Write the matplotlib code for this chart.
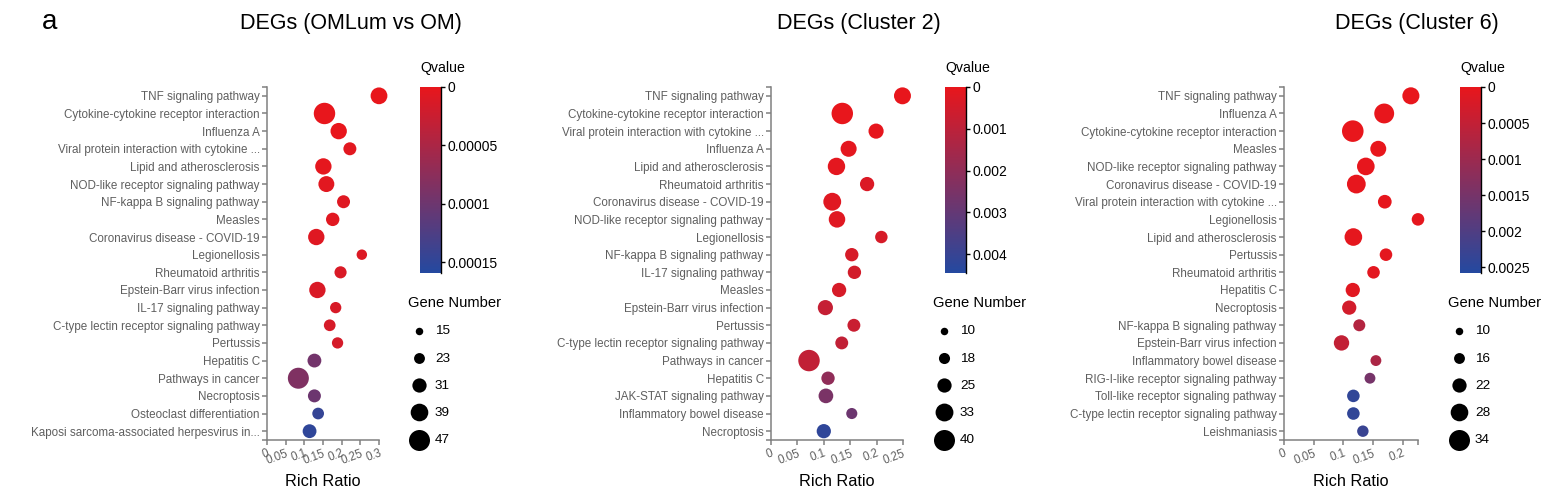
import numpy as np
import matplotlib
matplotlib.use("Agg")
import matplotlib.pyplot as plt
from matplotlib.colors import LinearSegmentedColormap, Normalize
from matplotlib.cm import ScalarMappable

plt.rcParams['font.family'] = ['Liberation Sans', 'DejaVu Sans']

# ---- panel 1: DEGs (OMLum vs OM)
terms_1 = ["TNF signaling pathway", "Cytokine-cytokine receptor interaction", "Influenza A",
           "Viral protein interaction with cytokine ...", "Lipid and atherosclerosis",
           "NOD-like receptor signaling pathway", "NF-kappa B signaling pathway", "Measles",
           "Coronavirus disease - COVID-19", "Legionellosis", "Rheumatoid arthritis",
           "Epstein-Barr virus infection", "IL-17 signaling pathway",
           "C-type lectin receptor signaling pathway", "Pertussis", "Hepatitis C",
           "Pathways in cancer", "Necroptosis", "Osteoclast differentiation",
           "Kaposi sarcoma-associated herpesvirus in..."]
ratio_1 = [0.300, 0.154, 0.192, 0.222, 0.151, 0.159, 0.205, 0.176, 0.132, 0.254,
           0.197, 0.135, 0.184, 0.168, 0.189, 0.127, 0.084, 0.127, 0.137, 0.114]
genes_1 = [37, 48, 36, 28, 36, 35, 28, 29, 36, 22, 26, 36, 24, 25, 24, 30, 47, 28, 25, 30]
qval_1 = [0, 0, 0, 0.000005, 0.000003, 0.000005, 0.000008, 0.000006, 0.000008, 0.00001,
          0.000012, 0.000012, 0.000014, 0.000015, 0.000016, 0.000095, 0.000085, 0.0001,
          0.000145, 0.00015]
qticks_1 = [0, 0.00005, 0.0001, 0.00015]
legend_1 = [15, 23, 31, 39, 47]

# ---- panel 2: DEGs (Cluster 2)
terms_2 = ["TNF signaling pathway", "Cytokine-cytokine receptor interaction",
           "Viral protein interaction with cytokine ...", "Influenza A",
           "Lipid and atherosclerosis", "Rheumatoid arthritis", "Coronavirus disease - COVID-19",
           "NOD-like receptor signaling pathway", "Legionellosis", "NF-kappa B signaling pathway",
           "IL-17 signaling pathway", "Measles", "Epstein-Barr virus infection", "Pertussis",
           "C-type lectin receptor signaling pathway", "Pathways in cancer", "Hepatitis C",
           "JAK-STAT signaling pathway", "Inflammatory bowel disease", "Necroptosis"]
ratio_2 = [0.249, 0.135, 0.199, 0.147, 0.124, 0.182, 0.116, 0.125, 0.209, 0.153,
           0.158, 0.129, 0.103, 0.157, 0.134, 0.072, 0.108, 0.104, 0.153, 0.100]
genes_2 = [31, 41, 27, 29, 32, 25, 33, 30, 21, 23, 23, 25, 27, 22, 22, 41, 23, 26, 18, 25]
qval_2 = [0, 0, 0.00005, 0.0001, 0.0001, 0.0003, 0.0002, 0.0002, 0.0004, 0.0004,
          0.0005, 0.0004, 0.0008, 0.0007, 0.0009, 0.0009, 0.002, 0.0025, 0.0028, 0.0042]
qticks_2 = [0, 0.001, 0.002, 0.003, 0.004]
legend_2 = [10, 18, 25, 33, 40]

# ---- panel 3: DEGs (Cluster 6)
terms_3 = ["TNF signaling pathway", "Influenza A", "Cytokine-cytokine receptor interaction",
           "Measles", "NOD-like receptor signaling pathway", "Coronavirus disease - COVID-19",
           "Viral protein interaction with cytokine ...", "Legionellosis",
           "Lipid and atherosclerosis", "Pertussis", "Rheumatoid arthritis", "Hepatitis C",
           "Necroptosis", "NF-kappa B signaling pathway", "Epstein-Barr virus infection",
           "Inflammatory bowel disease", "RIG-I-like receptor signaling pathway",
           "Toll-like receptor signaling pathway", "C-type lectin receptor signaling pathway",
           "Leishmaniasis"]
ratio_3 = [0.214, 0.169, 0.116, 0.159, 0.138, 0.122, 0.170, 0.226, 0.117, 0.172,
           0.151, 0.116, 0.110, 0.127, 0.097, 0.155, 0.145, 0.117, 0.117, 0.133]
genes_3 = [27, 32, 35, 25, 28, 30, 21, 19, 28, 19, 19, 22, 22, 18, 24, 16, 16, 19, 19, 17]
qval_3 = [0, 0, 0, 0, 0.00002, 0.00002, 0.00003, 0.00005, 0.00005, 0.00006, 0.00008,
          0.0001, 0.0003, 0.0007, 0.0005, 0.0008, 0.0015, 0.0024, 0.0024, 0.0023]
qticks_3 = [0, 0.0005, 0.001, 0.0015, 0.002, 0.0025]
legend_3 = [10, 16, 22, 28, 34]

W, H = 1556, 492
cmap = LinearSegmentedColormap.from_list("qv", ["#E8161C", "#2449A0"])
GRAY = "#808080"


def fx(px):
    return px / W


def fy(py):
    return 1 - py / H


def bubble(g, lo, hi):
    d = 7.5 + (np.asarray(g, float) - lo) / (hi - lo) * (21 - 7.5)
    return (d * 0.72) ** 2


def draw_panel(left, right, title, title_x, cb_left, terms, ratio, genes, qval,
               xmax, qmax, qticks, leg_vals):
    n = len(terms)
    ax = fig.add_axes([fx(left), fy(440), fx(right - left), (440 - 87) / H])
    lo, hi = leg_vals[0], leg_vals[-1]
    norm = Normalize(0, qmax)
    y = np.arange(n)
    ax.scatter(ratio, y, s=bubble(genes, lo, hi), c=qval, cmap=cmap, norm=norm,
               linewidths=0, zorder=3, clip_on=False)
    ax.set_ylim(n - 0.5, -0.5)
    ax.set_xlim(0, xmax)
    ax.set_yticks(y)
    ax.set_yticklabels(terms)
    xt = np.round(np.arange(0, xmax + 1e-9, 0.05), 2)
    ax.set_xticks(xt)
    ax.set_xticklabels(["%g" % v for v in xt],
                       rotation=20, ha="right", va="top", rotation_mode="anchor")
    ax.set_yticks([-0.5, n - 0.5], minor=True)
    ax.set_xticks([0, xmax], minor=True)
    for s in ["top", "right"]:
        ax.spines[s].set_visible(False)
    for s in ["left", "bottom"]:
        ax.spines[s].set_color(GRAY)
        ax.spines[s].set_linewidth(1.1)
    ax.tick_params(which="both", length=3.3, width=1.1, color=GRAY,
                   labelcolor="#5f5f5f", labelsize=8.4, pad=2)
    ax.tick_params(axis="x", labelsize=8.3)
    ax.set_xlabel("Rich Ratio", fontsize=11.7, va="center")
    ax.xaxis.set_label_coords(0.5, -41 / 353)
    fig.text(fx(title_x), fy(23), title, fontsize=15.5, ha="center", va="center")

    # colour bar
    cax = fig.add_axes([fx(cb_left), fy(273), fx(21), 186 / H])
    cb = fig.colorbar(ScalarMappable(norm=norm, cmap=cmap), cax=cax)
    cb.outline.set_visible(False)
    cax.invert_yaxis()
    cb.set_ticks(qticks)
    cb.set_ticklabels([np.format_float_positional(v, trim="-") for v in qticks])
    cax.spines["right"].set_visible(True)
    cax.spines["right"].set_color("black")
    cax.spines["right"].set_linewidth(1.0)
    cax.tick_params(length=3, width=1, labelsize=10, pad=1.5)
    fig.text(fx(cb_left), fy(68), "Qvalue", fontsize=10.2, ha="left", va="center")

    # size legend
    handles = [ax.scatter([], [], s=bubble(v, lo, hi), color="black", linewidths=0)
               for v in leg_vals]
    fig.legend(handles, [str(v) for v in leg_vals], loc="upper left",
               bbox_to_anchor=(fx(cb_left - 12), fy(296)), frameon=False,
               title="Gene Number", alignment="left", fontsize=9.7, title_fontsize=10.6,
               labelspacing=1.1, handlelength=1.6, handletextpad=0.4, borderpad=0,
               borderaxespad=0, scatterpoints=1)
    return ax


fig = plt.figure(figsize=(W / 100, H / 100), dpi=100)

draw_panel(267, 379, "DEGs (OMLum vs OM)", 351, 420, terms_1, ratio_1, genes_1, qval_1,
           0.30, 0.000159, qticks_1, legend_1)
draw_panel(771, 903, "DEGs (Cluster 2)", 859, 945, terms_2, ratio_2, genes_2, qval_2,
           0.25, 0.00445, qticks_2, legend_2)
draw_panel(1284, 1418, "DEGs (Cluster 6)", 1417, 1460, terms_3, ratio_3, genes_3, qval_3,
           0.226, 0.00258, qticks_3, legend_3)

fig.text(fx(50), fy(22), "a", fontsize=20, ha="center", va="center")

fig.savefig("out.png", dpi=100)
